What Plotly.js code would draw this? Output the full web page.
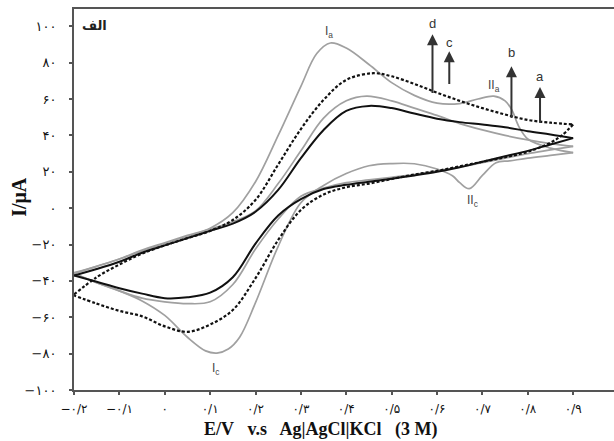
<!DOCTYPE html>
<html><head><meta charset="utf-8">
<script src="https://cdn.plot.ly/plotly-3.0.1.min.js"></script>
<style>html,body{margin:0;padding:0;background:#fff}#chart{width:614px;height:441px}</style>
</head><body><div id="chart"></div>
<script>
// ---- data (E in V, I in µA) ----
const aUpX = [-0.2,-0.15,-0.1,-0.05,0,0.05,0.1,0.15,0.2,0.25,0.3,0.35,0.4,0.45,0.5,0.55,0.6,0.65,0.7,0.75,0.8,0.85,0.9];
const aUpY = [-37,-33.5,-29.5,-24.5,-20.5,-16.5,-12.5,-8.5,-2,10,27.5,43,53.5,56.2,55,52,49.2,47.3,46,44.5,42.3,40.5,38.5];
const aDnX = [0.9,0.85,0.8,0.75,0.7,0.65,0.6,0.55,0.5,0.45,0.4,0.35,0.3,0.25,0.2,0.15,0.1,0.05,0,-0.05,-0.1,-0.15,-0.2];
const aDnY = [38.5,35,31.5,28.5,25.5,22.5,20,18,16.2,14.5,12.8,10.5,5,-4,-19.5,-38,-46.5,-49,-49.5,-47,-44,-40.5,-37];

const bUpX = [-0.2,-0.15,-0.1,-0.05,0,0.05,0.1,0.15,0.2,0.25,0.3,0.35,0.4,0.445,0.5,0.55,0.6,0.65,0.7,0.75,0.8,0.85,0.9];
const bUpY = [-36,-32,-28,-23.5,-19.5,-15.5,-11.5,-7.5,-1.5,13.5,31.5,49.5,59,61.6,59,55,51,46.5,43,40,37.5,35.5,34];
const bDnX = [0.9,0.85,0.8,0.75,0.7,0.65,0.6,0.55,0.5,0.45,0.4,0.35,0.3,0.25,0.2,0.15,0.1,0.05,0,-0.05,-0.1,-0.15,-0.2];
const bDnY = [34,32,30,27.5,25,22.5,20.5,18.5,17,15.5,14,11,6.5,-6,-22.5,-42,-51.5,-52.5,-51.5,-49.5,-45.5,-41,-36];

const cUpX = [-0.2,-0.15,-0.1,-0.05,0,0.05,0.1,0.15,0.2,0.25,0.3,0.35,0.4,0.46,0.5,0.55,0.6,0.65,0.7,0.75,0.8,0.85,0.9];
const cUpY = [-47.5,-38,-31,-25,-20.5,-16.5,-12.5,-6.5,4.5,24,43.5,59.5,70.5,74.2,72.5,68.3,63.5,59,55,51.5,48.5,47,46];
const cDnX = [0.9,0.875,0.85,0.8,0.75,0.7,0.65,0.6,0.55,0.5,0.45,0.4,0.35,0.3,0.25,0.2,0.15,0.1,0.05,0,-0.05,-0.1,-0.15,-0.2];
const cDnY = [46,40,36,31,28,25.5,23,20.5,18.5,16,13.5,11.5,7.5,-1,-17.5,-38.5,-56,-64,-68,-65,-59.5,-56.5,-52.5,-48];

const dUpX = [-0.2,-0.15,-0.1,-0.05,0,0.05,0.1,0.15,0.2,0.25,0.3,0.335,0.365,0.4,0.45,0.5,0.55,0.6,0.65,0.69,0.725,0.75,0.765,0.78,0.8,0.85,0.9];
const dUpY = [-35.5,-32,-28,-23,-19,-15,-11,-2.5,14.5,40,67,85,90.8,88,79,69,62,57.7,57.5,60,61.6,59,54,45,38,33,30.5];
const dDnX = [0.9,0.85,0.8,0.76,0.73,0.7,0.671,0.65,0.634,0.6,0.55,0.5,0.45,0.4,0.35,0.3,0.25,0.2,0.165,0.14,0.115,0.09,0.05,0,-0.05,-0.1,-0.15,-0.2];
const dDnY = [30.5,29,27.5,26,25,18,10.7,14,17.8,21.5,24.4,24.5,23.3,19,12.5,3,-21,-52,-71,-77.5,-79.7,-78.5,-71,-59,-51,-45.5,-41,-36];

// axis ticks (Persian digits)
const xTickVals = [-0.2,-0.1,0,0.1,0.2,0.3,0.4,0.5,0.6,0.7,0.8,0.9];
const xTickText = ['−۰/۲','−۰/۱','۰','۰/۱','۰/۲','۰/۳','۰/۴','۰/۵','۰/۶','۰/۷','۰/۸','۰/۹'];
const yTickVals = [-100,-80,-60,-40,-20,0,20,40,60,80,100];
const yTickText = ['−۱۰۰','−۸۰','−۶۰','−۴۰','−۲۰','۰','۲۰','۴۰','۶۰','۸۰','۱۰۰'];

// concentration arrows
const arrowNames = ['d','c','b','a'];
const arrowE = [0.59,0.627,0.764,0.827];
const arrowFrom = [57.8,62.7,44,41.4];
const arrowTo = [95.6,86.3,78,66.6];
const arrowLabelY = [101.5,91,85.5,72.5];

// peak labels
const peakText = ['I<sub>a</sub>','I<sub>c</sub>','II<sub>a</sub>','II<sub>c</sub>'];
const peakE = [0.363,0.112,0.726,0.678];
const peakI = [97,-88.5,67,4];

const GRAY = '#a0a0a0', BLACK = '#111';
function tr(x,y,color,width,dash){
  return {x:x,y:y,type:'scatter',mode:'lines',hoverinfo:'skip',showlegend:false,
    line:{color:color,width:width,dash:dash||'solid',shape:'spline',smoothing:1}};
}
const data = [
  tr(dUpX,dUpY,GRAY,1.7), tr(dDnX,dDnY,GRAY,1.7),
  tr(bUpX,bUpY,GRAY,1.7), tr(bDnX,bDnY,GRAY,1.7),
  tr(aUpX,aUpY,BLACK,2), tr(aDnX,aDnY,BLACK,2),
  tr(cUpX,cUpY,BLACK,2.2,'3px,2px'), tr(cDnX,cDnY,BLACK,2.2,'3px,2px')
];

const ann = [];
for (let i=0;i<arrowNames.length;i++){
  ann.push({x:arrowE[i],y:arrowTo[i],ax:arrowE[i],ay:arrowFrom[i],xref:'x',yref:'y',axref:'x',ayref:'y',
    text:' ',showarrow:true,arrowhead:2,arrowsize:1.1,arrowwidth:2,arrowcolor:'#333'});
  ann.push({x:arrowE[i],y:arrowLabelY[i],xref:'x',yref:'y',text:arrowNames[i],showarrow:false,
    font:{family:'Liberation Sans, Arial',size:13,color:'#333'}});
}
for (let i=0;i<peakText.length;i++){
  ann.push({x:peakE[i],y:peakI[i],xref:'x',yref:'y',text:peakText[i],showarrow:false,
    font:{family:'Liberation Sans, Arial',size:12,color:'#444'}});
}
ann.push({x:0.038,y:0.958,xref:'paper',yref:'paper',xanchor:'center',yanchor:'middle',text:'<b>الف</b>',showarrow:false,
  font:{family:'DejaVu Sans',size:13,color:'#222'}});
ann.push({x:0.456,y:-0.103,xref:'paper',yref:'paper',xanchor:'center',yanchor:'middle',
  text:'<b>E/V&nbsp;&nbsp; v.s&nbsp;&nbsp; Ag|AgCl|KCl&nbsp;&nbsp; (3 M)</b>',showarrow:false,
  font:{family:'Liberation Serif, Times New Roman',size:18,color:'#111'}});
ann.push({x:-0.1,y:0.507,xref:'paper',yref:'paper',xanchor:'center',yanchor:'middle',textangle:-90,text:'<b>I/μA</b>',showarrow:false,
  font:{family:'Liberation Serif, Times New Roman',size:20,color:'#111'}});

const layout = {
  width:614,height:441,margin:{l:74,r:0,t:9,b:51},
  paper_bgcolor:'#fff',plot_bgcolor:'#fff',showlegend:false,
  xaxis:{range:[-0.2,0.99],tickvals:xTickVals,ticktext:xTickText,showgrid:false,zeroline:false,
    showline:true,mirror:true,linecolor:'#555',linewidth:2,ticks:'outside',ticklen:3,tickwidth:2,tickcolor:'#555',
    tickfont:{family:'DejaVu Sans',size:12,color:'#111'},ticklabelstandoff:4},
  yaxis:{range:[-100,109.5],tickvals:yTickVals,ticktext:yTickText,showgrid:false,zeroline:false,
    showline:true,mirror:false,linecolor:'#555',linewidth:2,ticks:'outside',ticklen:3,tickwidth:2,tickcolor:'#555',
    tickfont:{family:'DejaVu Sans',size:13,color:'#111'},ticklabelstandoff:10},
  annotations:ann
};
Plotly.newPlot('chart',data,layout,{staticPlot:true,displayModeBar:false});
</script></body></html>
